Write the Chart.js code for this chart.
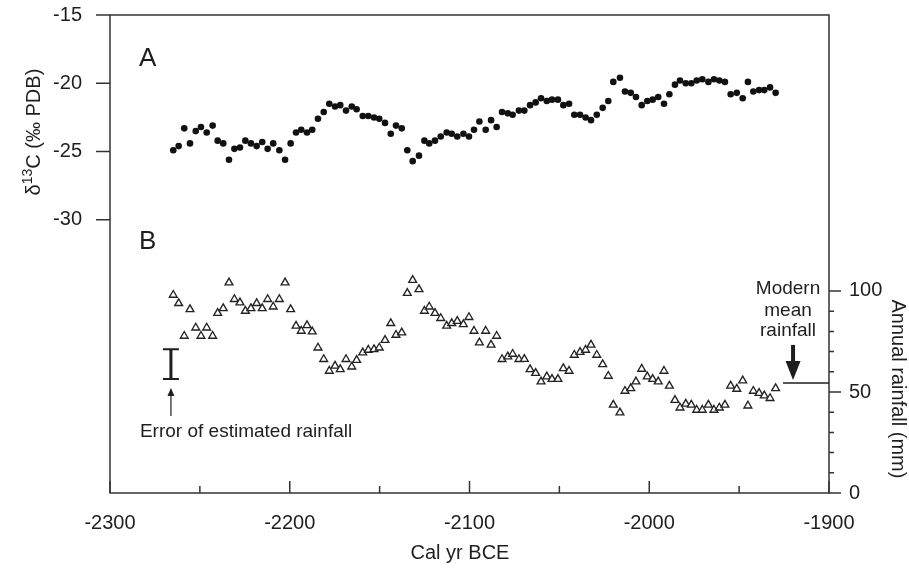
<!DOCTYPE html>
<html><head><meta charset="utf-8">
<script src="https://cdn.jsdelivr.net/npm/chart.js@4.4.1/dist/chart.umd.min.js"></script>
<style>html,body{margin:0;padding:0;background:#fff;overflow:hidden}canvas{display:block}</style>
</head><body>
<canvas id="c" width="909" height="568"></canvas>
<script>
// ---- data ----
const years = [
-2264.8,-2261.8,-2258.7,-2255.5,-2252.3,-2249.4,-2246.2,-2242.9,-2240.1,-2237.0,
-2233.8,-2230.8,-2227.7,-2224.7,-2221.6,-2218.4,-2215.3,-2212.3,-2209.2,-2205.8,
-2202.6,-2199.5,-2196.5,-2193.6,-2190.4,-2187.5,-2184.3,-2181.1,-2178.0,-2174.8,
-2171.9,-2168.7,-2165.5,-2162.8,-2159.4,-2156.3,-2153.1,-2150.2,-2147.0,-2143.8,
-2140.9,-2137.7,-2134.6,-2131.6,-2128.1,-2125.1,-2122.4,-2119.2,-2116.0,-2112.7,
-2109.9,-2106.8,-2103.4,-2100.3,-2097.5,-2094.5,-2091.0,-2088.0,-2084.9,-2081.9,
-2078.7,-2076.0,-2072.5,-2069.5,-2066.3,-2063.2,-2060.2,-2057.0,-2054.1,-2050.8,
-2047.8,-2044.6,-2041.7,-2038.5,-2035.4,-2032.4,-2029.2,-2025.9,-2022.8,-2020.0,
-2016.3,-2013.5,-2010.3,-2007.4,-2004.2,-2001.1,-1998.1,-1995.0,-1991.8,-1988.8,
-1985.7,-1982.9,-1979.7,-1976.6,-1973.6,-1970.5,-1967.1,-1964.0,-1961.0,-1957.9,
-1954.7,-1951.3,-1948.0,-1945.1,-1942.1,-1938.9,-1936.0,-1932.8,-1929.7];

const d13C = [
-24.9,-24.6,-23.3,-24.4,-23.5,-23.2,-23.6,-23.1,-24.2,-24.4,
-25.6,-24.8,-24.7,-24.2,-24.4,-24.6,-24.3,-24.8,-24.4,-24.9,
-25.6,-24.4,-23.6,-23.4,-23.6,-23.4,-22.6,-22.1,-21.5,-21.7,
-21.6,-22.0,-21.7,-21.9,-22.4,-22.4,-22.5,-22.6,-22.9,-23.7,
-23.1,-23.3,-24.9,-25.7,-25.3,-24.2,-24.4,-24.2,-23.9,-23.6,
-23.7,-23.9,-23.7,-23.9,-23.4,-22.8,-23.4,-22.7,-23.2,-22.1,
-22.2,-22.3,-22.0,-22.0,-21.6,-21.4,-21.1,-21.3,-21.2,-21.2,
-21.6,-21.5,-22.3,-22.3,-22.5,-22.7,-22.3,-21.8,-21.3,-19.9,
-19.6,-20.6,-20.7,-21.0,-21.6,-21.3,-21.2,-21.0,-21.5,-20.8,
-20.1,-19.8,-20.0,-20.0,-19.8,-19.7,-19.9,-19.7,-19.8,-19.9,
-20.8,-20.7,-21.1,-19.9,-20.6,-20.5,-20.5,-20.3,-20.7];

const rainfall = [
98.0,93.9,77.7,90.9,81.8,77.7,81.8,77.7,89.0,91.4,
104.1,95.9,94.2,90.1,91.4,93.9,91.4,95.9,92.2,95.9,
104.1,90.9,82.7,80.2,83.0,79.9,71.9,66.2,60.4,62.9,
61.2,66.2,62.5,65.8,69.5,70.8,71.1,71.9,75.7,84.0,
78.2,79.4,98.9,105.4,100.8,90.1,92.2,89.0,86.5,82.7,
84.0,85.1,83.5,87.0,80.2,74.4,80.2,73.3,77.7,66.2,
67.5,68.8,66.2,66.3,61.2,59.3,55.1,57.6,56.4,56.4,
61.7,60.4,68.3,69.7,70.8,73.3,68.3,63.7,57.9,43.6,
39.8,50.5,51.8,55.1,61.4,57.6,56.4,55.1,60.4,53.0,
46.0,42.2,44.1,43.6,41.1,41.1,43.6,41.1,42.2,43.6,
53.0,51.5,55.6,43.2,50.5,49.4,48.2,46.9,51.8];

const xTicks = [-2300,-2200,-2100,-2000,-1900];
const xMinorTicks = [-2250,-2150,-2050,-1950];
const d13CTicks = [-15,-20,-25,-30];
const rainTicks = [0,50,100];
const rainMinorTicks = [10,20,30,40,60,70,80,90];

const modernMean = 54.5;                 // mm, horizontal reference line
const modernMeanFrom = -1925.6;          // year where the line starts
const errorBar = {year:-2266.1, low:56.4, high:71.1};

const texts = {
  xTitle: 'Cal yr BCE',
  yLeftPre: 'δ', yLeftSup: '13', yLeftPost: 'C (‰ PDB)',
  yRight: 'Annual rainfall (mm)',
  panelA: 'A', panelB: 'B',
  errorNote: 'Error of estimated rainfall',
  modern: ['Modern','mean','rainfall']
};

// ---- drawing ----
const FONT = '"Liberation Sans", Arial, Helvetica, sans-serif';
const INK = '#1e1e1e';

const overlay = {
  id: 'overlay',
  afterDraw(chart) {
    const {ctx, chartArea: a, scales} = chart;
    const x = scales.x, yA = scales.yA, yB = scales.yB;
    ctx.save();
    // frame
    ctx.strokeStyle = '#333';
    ctx.lineWidth = 1.5;
    ctx.strokeRect(a.left, a.top, a.right - a.left, a.bottom - a.top);
    // ticks
    ctx.beginPath();
    d13CTicks.forEach(v => { const p = yA.getPixelForValue(v); ctx.moveTo(a.left - 14, p); ctx.lineTo(a.left, p); });
    rainTicks.forEach(v => { const p = yB.getPixelForValue(v); ctx.moveTo(a.right, p); ctx.lineTo(a.right + 12, p); });
    rainMinorTicks.forEach(v => { const p = yB.getPixelForValue(v); ctx.moveTo(a.right, p); ctx.lineTo(a.right + 5, p); });
    xTicks.forEach(v => { const p = x.getPixelForValue(v); ctx.moveTo(p, a.bottom); ctx.lineTo(p, a.bottom - 12); });
    xMinorTicks.forEach(v => { const p = x.getPixelForValue(v); ctx.moveTo(p, a.bottom); ctx.lineTo(p, a.bottom - 7); });
    ctx.stroke();

    ctx.fillStyle = INK;
    ctx.strokeStyle = INK;

    // panel labels
    ctx.font = '26px ' + FONT;
    ctx.textAlign = 'center';
    ctx.textBaseline = 'alphabetic';
    ctx.fillText(texts.panelA, x.getPixelForValue(-2279.1), yA.getPixelForValue(-18.7));
    ctx.fillText(texts.panelB, x.getPixelForValue(-2279.0), yA.getPixelForValue(-32.1));

    // x title
    ctx.font = '20px ' + FONT;
    ctx.textBaseline = 'middle';
    ctx.fillText(texts.xTitle, x.getPixelForValue(-2105.3), 553);

    // left title (rotated)
    ctx.save();
    ctx.translate(33, yA.getPixelForValue(-23.57));
    ctx.rotate(-Math.PI / 2);
    ctx.font = '20px ' + FONT;
    const w1 = ctx.measureText(texts.yLeftPre).width;
    const w3 = ctx.measureText(texts.yLeftPost).width;
    ctx.font = '14px ' + FONT;
    const w2 = ctx.measureText(texts.yLeftSup).width;
    let sx = -(w1 + w2 + w3) / 2;
    ctx.textAlign = 'left';
    ctx.textBaseline = 'alphabetic';
    ctx.font = '20px ' + FONT;
    ctx.fillText(texts.yLeftPre, sx, 7); sx += w1;
    ctx.font = '14px ' + FONT;
    ctx.fillText(texts.yLeftSup, sx, -1); sx += w2;
    ctx.font = '20px ' + FONT;
    ctx.fillText(texts.yLeftPost, sx, 7);
    ctx.restore();

    // right title (rotated clockwise)
    ctx.save();
    ctx.translate(898, yB.getPixelForValue(51.5));
    ctx.rotate(Math.PI / 2);
    ctx.font = '20px ' + FONT;
    ctx.textAlign = 'center';
    ctx.textBaseline = 'middle';
    ctx.fillText(texts.yRight, 0, 0);
    ctx.restore();

    // error bar
    const ex = x.getPixelForValue(errorBar.year);
    const eyL = yB.getPixelForValue(errorBar.low), eyH = yB.getPixelForValue(errorBar.high);
    ctx.lineWidth = 3;
    ctx.beginPath(); ctx.moveTo(ex, eyL); ctx.lineTo(ex, eyH); ctx.stroke();
    ctx.lineWidth = 2;
    ctx.beginPath();
    ctx.moveTo(ex - 8, eyL); ctx.lineTo(ex + 8, eyL);
    ctx.moveTo(ex - 8, eyH); ctx.lineTo(ex + 8, eyH);
    ctx.stroke();

    // small arrow pointing at the error bar
    const aTip = yB.getPixelForValue(52.0), aTail = yB.getPixelForValue(38.1);
    ctx.lineWidth = 1.2;
    ctx.beginPath(); ctx.moveTo(ex, aTail); ctx.lineTo(ex, aTip + 6); ctx.stroke();
    ctx.beginPath(); ctx.moveTo(ex, aTip); ctx.lineTo(ex - 3.5, aTip + 8); ctx.lineTo(ex + 3.5, aTip + 8); ctx.closePath(); ctx.fill();

    ctx.font = '19px ' + FONT;
    ctx.textAlign = 'center';
    ctx.textBaseline = 'middle';
    ctx.fillText(texts.errorNote, x.getPixelForValue(-2224.3), yB.getPixelForValue(30.2));

    // modern mean rainfall
    const my = yB.getPixelForValue(modernMean);
    ctx.lineWidth = 1.5;
    ctx.beginPath(); ctx.moveTo(x.getPixelForValue(modernMeanFrom), my); ctx.lineTo(a.right, my); ctx.stroke();
    const bx = x.getPixelForValue(-1920.0);
    const bTip = yB.getPixelForValue(55.9), bTail = yB.getPixelForValue(73.3);
    ctx.lineWidth = 4;
    ctx.beginPath(); ctx.moveTo(bx, bTail); ctx.lineTo(bx, bTip - 12); ctx.stroke();
    ctx.beginPath(); ctx.moveTo(bx, bTip); ctx.lineTo(bx - 7.5, bTip - 19); ctx.lineTo(bx + 7.5, bTip - 19); ctx.closePath(); ctx.fill();
    const tx = x.getPixelForValue(-1922.8);
    [101.0, 90.1, 80.2].forEach((v, i) => ctx.fillText(texts.modern[i], tx, yB.getPixelForValue(v)));

    ctx.restore();
  }
};

const tickFont = {size: 20, family: FONT};
const zeroPad = s => { s.paddingTop = 0; s.paddingBottom = 0; s.paddingLeft = 0; s.paddingRight = 0; };

new Chart(document.getElementById('c'), {
  type: 'scatter',
  data: {
    datasets: [
      {
        label: 'δ13C',
        data: years.map((v, i) => ({x: v, y: d13C[i]})),
        yAxisID: 'yA',
        pointStyle: 'circle',
        pointRadius: 3.3,
        pointBackgroundColor: '#111',
        pointBorderWidth: 0
      },
      {
        label: 'Annual rainfall',
        data: years.map((v, i) => ({x: v, y: rainfall[i]})),
        yAxisID: 'yB',
        pointStyle: 'triangle',
        pointRadius: 4.5,
        pointBackgroundColor: '#fff',
        pointBorderColor: '#222',
        pointBorderWidth: 1.35
      }
    ]
  },
  options: {
    responsive: false,
    animation: false,
    devicePixelRatio: 1,
    layout: {padding: {top: 15, left: 0, right: 0, bottom: 0}},
    plugins: {legend: {display: false}, title: {display: false}, tooltip: {enabled: false}},
    scales: {
      x: {
        type: 'linear', position: 'bottom', min: -2300, max: -1900,
        afterBuildTicks: s => { s.ticks = xTicks.map(v => ({value: v})); },
        afterFit: s => { s.height = 75; zeroPad(s); },
        grid: {display: false, drawTicks: false},
        border: {display: false},
        ticks: {font: tickFont, color: INK, padding: 18, maxRotation: 0, autoSkip: false, callback: v => String(v)}
      },
      yA: {
        type: 'linear', position: 'left', min: -50, max: -15,
        afterBuildTicks: s => { s.ticks = d13CTicks.map(v => ({value: v})); },
        afterFit: s => { s.width = 110; zeroPad(s); },
        grid: {display: false, drawTicks: false},
        border: {display: false},
        ticks: {font: tickFont, color: INK, padding: 28, autoSkip: false, callback: v => String(v)}
      },
      yB: {
        type: 'linear', position: 'right', min: 0, max: 236.6,
        afterBuildTicks: s => { s.ticks = rainTicks.map(v => ({value: v})); },
        afterFit: s => { s.width = 80; zeroPad(s); },
        grid: {display: false, drawTicks: false},
        border: {display: false},
        ticks: {font: tickFont, color: INK, padding: 20, autoSkip: false, callback: v => String(v)}
      }
    }
  },
  plugins: [overlay]
});
</script>
</body></html>
